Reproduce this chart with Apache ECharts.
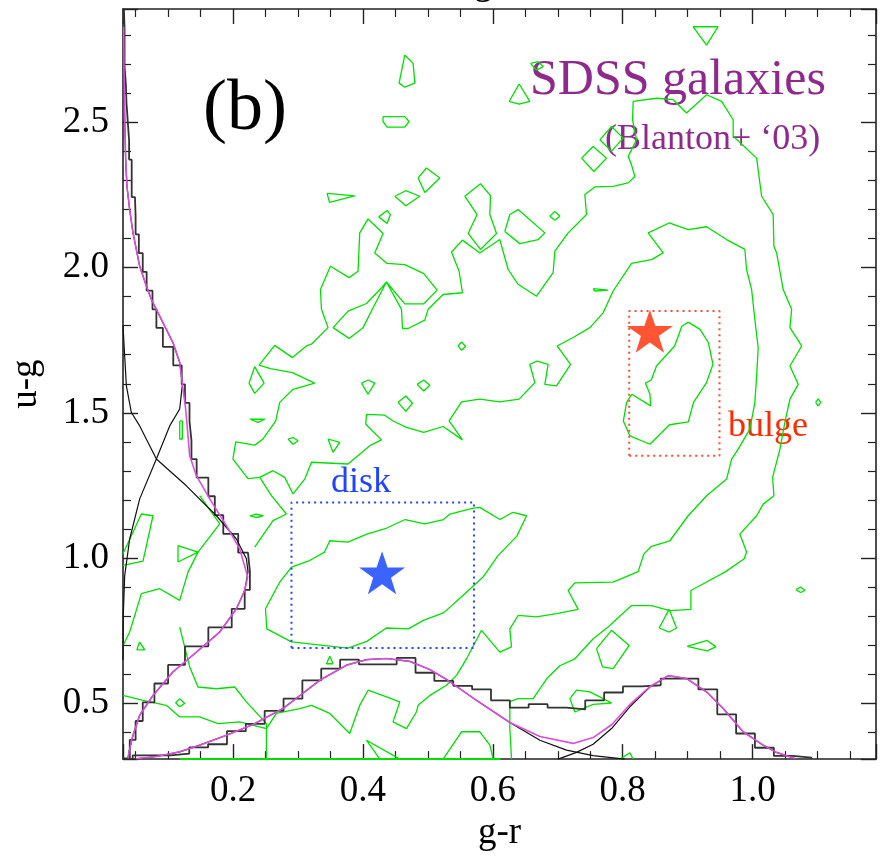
<!DOCTYPE html>
<html>
<head>
<meta charset="utf-8">
<script src="https://cdn.jsdelivr.net/npm/echarts@6/dist/echarts.min.js"></script>
<style>
html,body{margin:0;padding:0;background:#fff;}
#chart{width:884px;height:857px;}
</style>
</head>
<body>
<div id="chart"></div>
<script>
// Axis extents (g-r horizontally, u-g vertically)
const xRange = [0.0306, 1.19];
const yRange = [0.309, 2.889];

// g-r histogram: bin edges and bin heights (drawn in u-g units along the bottom)
const grEdges = [0.0455,0.0745,0.1036,0.1326,0.1616,0.1907,0.2197,0.2487,0.2778,0.3068,0.3358,0.3649,0.3939,0.4229,0.4520,0.4810,0.5100,0.5391,0.5681,0.5972,0.6262,0.6552,0.6843,0.7133,0.7423,0.7714,0.8004,0.8294,0.8585,0.8875,0.9165,0.9456,0.9746,1.0036,1.0327,1.0617,1.0907];
const grCounts = [0.322,0.322,0.328,0.349,0.360,0.405,0.430,0.475,0.517,0.580,0.620,0.651,0.635,0.635,0.657,0.606,0.578,0.561,0.549,0.511,0.486,0.498,0.486,0.480,0.511,0.538,0.559,0.563,0.586,0.586,0.549,0.463,0.397,0.348,0.320,0.314];

// u-g histogram: bin edges and bin heights (drawn in g-r units along the left side)
const ugEdges = [0.311,0.375,0.440,0.504,0.569,0.633,0.697,0.762,0.826,0.891,0.955,1.019,1.084,1.148,1.213,1.277,1.341,1.405,1.470,1.534,1.598,1.663,1.727,1.792,1.856,1.920,1.985,2.049,2.114,2.178,2.242,2.307,2.371,2.436,2.500,2.565,2.629,2.693,2.758,2.822,2.887];
const ugCounts = [0.041,0.050,0.061,0.079,0.100,0.126,0.162,0.198,0.218,0.226,0.223,0.208,0.185,0.172,0.162,0.144,0.136,0.133,0.133,0.126,0.121,0.108,0.092,0.082,0.076,0.067,0.061,0.055,0.050,0.049,0.044,0.044,0.040,0.038,0.036,0.035,0.033,0.033,0.033,0.032];

// Two-component fits to the g-r histogram
const grFitTotal = [[0.0501,0.310],[0.0820,0.318],[0.1179,0.334],[0.1487,0.357],[0.1898,0.391],[0.2308,0.428],[0.2770,0.483],[0.3335,0.580],[0.3747,0.632],[0.4055,0.651],[0.4363,0.655],[0.4722,0.645],[0.5030,0.617],[0.5307,0.580],[0.5749,0.511],[0.6262,0.435],[0.6725,0.387],[0.7237,0.363],[0.7545,0.383],[0.7833,0.428],[0.8126,0.500],[0.8419,0.558],[0.8700,0.596],[0.8984,0.586],[0.9292,0.540],[0.9547,0.483],[0.9855,0.403],[1.0163,0.357],[1.0370,0.332],[1.0652,0.311]];
const grFitBlue = [[0.0501,0.310],[0.0820,0.318],[0.1179,0.334],[0.1487,0.357],[0.1898,0.391],[0.2308,0.428],[0.2770,0.483],[0.3335,0.580],[0.3747,0.632],[0.4055,0.651],[0.4363,0.655],[0.4722,0.645],[0.5030,0.617],[0.5307,0.580],[0.5749,0.511],[0.6262,0.435],[0.6725,0.374],[0.7135,0.340],[0.7545,0.321],[0.8033,0.309]];
const grFitRed = [[0.7006,0.309],[0.7289,0.332],[0.7545,0.360],[0.7828,0.414],[0.8110,0.489],[0.8418,0.557],[0.8700,0.596],[0.8984,0.586],[0.9292,0.540],[0.9547,0.483],[0.9855,0.403],[1.0163,0.357],[1.0370,0.332],[1.0652,0.311]];

// Two-component fits to the u-g histogram ([g-r extent, u-g])
const ugFitTotal = [[0.0317,2.828],[0.0321,2.691],[0.0332,2.519],[0.0347,2.371],[0.0367,2.279],[0.0409,2.199],[0.0460,2.119],[0.0563,2.004],[0.0666,1.936],[0.0743,1.890],[0.0922,1.810],[0.1076,1.741],[0.1179,1.673],[0.1221,1.598],[0.1271,1.513],[0.1333,1.352],[0.1436,1.284],[0.1641,1.204],[0.1898,1.112],[0.2103,1.032],[0.2206,0.952],[0.2226,0.936],[0.2180,0.889],[0.2052,0.826],[0.1795,0.746],[0.1436,0.677],[0.1076,0.609],[0.0768,0.528],[0.0563,0.460],[0.0460,0.391],[0.0398,0.334],[0.0383,0.311]];
const ugFitBlue = [[0.0306,1.800],[0.0332,1.695],[0.0358,1.593],[0.0435,1.501],[0.0563,1.455],[0.0820,1.341],[0.1282,1.249],[0.1744,1.146],[0.2052,1.066],[0.2206,0.998],[0.2231,0.954],[0.2180,0.889],[0.2052,0.826],[0.1795,0.746],[0.1436,0.677],[0.1076,0.609],[0.0768,0.528],[0.0563,0.460],[0.0460,0.391],[0.0398,0.334],[0.0383,0.311]];
const ugFitRed = [[0.0317,2.828],[0.0321,2.691],[0.0332,2.519],[0.0347,2.371],[0.0367,2.279],[0.0409,2.199],[0.0460,2.119],[0.0563,2.004],[0.0666,1.936],[0.0743,1.890],[0.0922,1.810],[0.1076,1.741],[0.1179,1.673],[0.1221,1.598],[0.1179,1.513],[0.1025,1.455],[0.0820,1.341],[0.0563,1.204],[0.0409,1.066],[0.0332,0.940],[0.0310,0.800],[0.0306,0.650]];

// Density contours of the galaxy distribution
const contourOuter = [[0.2412,1.278],[0.2231,1.274],[0.1998,1.341],[0.2042,1.400],[0.2334,1.389],[0.2462,1.410],[0.2658,1.472],[0.2719,1.536],[0.2924,1.581],[0.3258,1.602],[0.2915,1.638],[0.2576,1.652],[0.2401,1.664],[0.2642,1.732],[0.2915,1.690],[0.3130,1.730],[0.3207,1.736],[0.3463,1.793],[0.3362,1.856],[0.3346,1.924],[0.3500,2.004],[0.3787,1.965],[0.3925,1.987],[0.3951,2.119],[0.4079,2.167],[0.4310,2.117],[0.4182,2.050],[0.4372,2.014],[0.4645,2.010],[0.4937,1.979],[0.5142,1.922],[0.4937,1.875],[0.4645,1.875],[0.4362,1.950],[0.4131,1.850],[0.4002,1.793],[0.3787,1.756],[0.3540,1.793],[0.3771,1.850],[0.4055,1.876],[0.4286,1.930],[0.4362,1.950],[0.4594,1.856],[0.4609,1.790],[0.4696,1.790],[0.4953,1.819],[0.5004,1.856],[0.5235,1.907],[0.5533,1.913],[0.5481,1.987],[0.5364,2.053],[0.5533,2.094],[0.5800,2.050],[0.6108,2.096],[0.6236,1.993],[0.6390,1.942],[0.6673,1.901],[0.6929,1.982],[0.6955,2.056],[0.7160,2.119],[0.7443,2.182],[0.7417,2.251],[0.7571,2.277],[0.7853,2.279],[0.8084,2.291],[0.8187,2.313],[0.8136,2.353],[0.8084,2.382],[0.8213,2.439],[0.8152,2.508],[0.8161,2.571],[0.8521,2.582],[0.8777,2.577],[0.8983,2.531],[0.9291,2.594],[0.9523,2.571],[0.9701,2.508],[0.9701,2.451],[1.0062,2.376],[1.0139,2.245],[1.0317,2.182],[1.0328,2.073],[1.0370,2.050],[1.0471,1.924],[1.0601,1.856],[1.0575,1.793],[1.0755,1.730],[1.0575,1.661],[1.0702,1.598],[1.0575,1.547],[1.0497,1.467],[1.0421,1.375],[1.0308,1.278],[1.0328,1.215],[1.0163,1.186],[1.0062,1.146],[0.9804,1.083],[0.9907,1.021],[0.9871,0.998],[0.9574,0.952],[0.9291,0.918],[0.9050,0.889],[0.9050,0.824],[0.8726,0.820],[0.8444,0.837],[0.8136,0.837],[0.7853,0.780],[0.7776,0.763],[0.7545,0.723],[0.7263,0.654],[0.7032,0.630],[0.6832,0.586],[0.6621,0.517],[0.6390,0.517],[0.6262,0.507],[0.6262,0.414],[0.6288,0.309]];
const contourMid = [[0.2412,1.278],[0.2616,1.301],[0.2796,1.278],[0.2924,1.221],[0.3104,1.272],[0.3208,1.330],[0.3771,1.324],[0.4106,1.387],[0.4286,1.407],[0.4044,1.461],[0.4055,1.495],[0.4337,1.492],[0.4464,1.472],[0.4671,1.450],[0.4937,1.433],[0.5235,1.453],[0.5533,1.407],[0.5327,1.472],[0.5518,1.538],[0.5800,1.547],[0.6108,1.538],[0.6405,1.547],[0.6647,1.604],[0.6570,1.667],[0.6682,1.678],[0.6852,1.667],[0.6801,1.598],[0.6981,1.593],[0.7197,1.667],[0.6990,1.730],[0.7237,1.759],[0.7494,1.793],[0.7699,1.844],[0.7853,1.919],[0.8136,2.014],[0.8444,2.027],[0.8623,2.050],[0.8392,2.119],[0.8715,2.153],[0.9008,2.130],[0.9291,2.140],[0.9600,2.096],[0.9881,2.062],[0.9907,1.993],[0.9985,1.924],[1.0035,1.821],[1.0086,1.724],[1.0062,1.627],[1.0035,1.536],[0.9958,1.444],[0.9778,1.375],[0.9677,1.341],[0.9600,1.272],[0.9292,1.215],[0.9008,1.146],[0.8726,1.060],[0.8444,1.041],[0.8326,1.015],[0.8238,0.954],[0.7853,0.918],[0.7263,0.915],[0.7160,0.889],[0.7314,0.824],[0.6981,0.809],[0.6673,0.798],[0.6390,0.803],[0.6262,0.757],[0.6288,0.695],[0.6108,0.677],[0.5826,0.752],[0.5595,0.654],[0.5441,0.597],[0.5287,0.563],[0.5031,0.528],[0.4850,0.494],[0.4825,0.472],[0.4671,0.414],[0.4464,0.437],[0.4568,0.506],[0.4363,0.523],[0.4079,0.546],[0.3951,0.494],[0.3797,0.397],[0.3490,0.466],[0.3208,0.494],[0.3028,0.483],[0.2668,0.466],[0.2514,0.414],[0.2103,0.437],[0.1769,0.431],[0.1487,0.454],[0.1179,0.454],[0.0974,0.494],[0.0614,0.511],[0.0306,0.528]];
const contourDiskCore = [[0.250,0.826],[0.252,0.757],[0.290,0.712],[0.377,0.691],[0.406,0.714],[0.436,0.760],[0.470,0.757],[0.493,0.786],[0.524,0.812],[0.554,0.872],[0.585,0.935],[0.608,1.009],[0.637,1.076],[0.652,1.146],[0.631,1.158],[0.611,1.133],[0.580,1.175],[0.570,1.172],[0.534,1.152],[0.524,1.133],[0.495,1.118],[0.465,1.133],[0.436,1.103],[0.406,1.083],[0.377,1.055],[0.349,1.060],[0.341,1.021],[0.318,0.992],[0.290,0.969],[0.272,0.918],[0.250,0.826]];
const contourBulgeCore = [[0.901,1.812],[0.919,1.787],[0.932,1.741],[0.939,1.667],[0.929,1.604],[0.909,1.536],[0.901,1.469],[0.872,1.459],[0.842,1.392],[0.811,1.421],[0.801,1.472],[0.806,1.536],[0.814,1.564],[0.843,1.524],[0.842,1.564],[0.835,1.602],[0.844,1.613],[0.852,1.661],[0.880,1.730],[0.891,1.798],[0.901,1.812]];
const contourLeftA = [[0.2412,1.278],[0.2591,1.215],[0.2822,1.152],[0.2616,1.129],[0.2334,1.038]];
const contourLeftB = [[0.0306,0.700],[0.0409,0.746],[0.0589,0.878],[0.0871,0.895],[0.1179,0.855],[0.1307,0.952],[0.1461,1.021],[0.1795,1.118],[0.1487,1.215]];
const contourLeftC = [[0.1179,0.763],[0.1333,0.626],[0.1461,0.557],[0.1744,0.551],[0.2026,0.557],[0.2206,0.506],[0.2514,0.431],[0.2514,0.309]];
const contourLeftD = [[0.0306,1.015],[0.0589,1.152],[0.0768,1.146],[0.0614,0.990],[0.0306,0.975]];
const contourBase = [[0.118,0.309],[0.612,0.309]];
const contourIslands = [
  [[0.4645,2.731],[0.4773,2.702],[0.4799,2.634],[0.4645,2.620],[0.4557,2.634],[0.4645,2.731]],
  [[0.4310,2.519],[0.4645,2.519],[0.4711,2.502],[0.4645,2.483],[0.4372,2.483],[0.4310,2.502],[0.4310,2.519]],
  [[0.4850,2.308],[0.4979,2.342],[0.5184,2.308],[0.4953,2.258],[0.4850,2.308]],
  [[0.6251,2.571],[0.6405,2.631],[0.6570,2.571],[0.6405,2.562],[0.6251,2.571]],
  [[0.9082,2.828],[0.9467,2.828],[0.9291,2.765],[0.9082,2.828]],
  [[0.6581,2.702],[0.6698,2.708],[0.6775,2.691],[0.6673,2.679],[0.6581,2.702]],
  [[0.4491,2.245],[0.4660,2.264],[0.4876,2.245],[0.4660,2.212],[0.4491,2.245]],
  [[0.3448,2.255],[0.3874,2.246],[0.3486,2.224],[0.3448,2.255]],
  [[0.4244,2.174],[0.4372,2.196],[0.4424,2.182],[0.4372,2.151],[0.4244,2.174]],
  [[0.5466,1.730],[0.5518,1.744],[0.5580,1.728],[0.5518,1.715],[0.5466,1.730]],
  [[0.2246,1.602],[0.2334,1.659],[0.2478,1.602],[0.2334,1.567],[0.2246,1.602]],
  [[0.3978,1.602],[0.4079,1.613],[0.4182,1.602],[0.4079,1.564],[0.3978,1.602]],
  [[0.4834,1.598],[0.4937,1.613],[0.5030,1.595],[0.4937,1.575],[0.4834,1.598]],
  [[0.4541,1.536],[0.4660,1.558],[0.4763,1.533],[0.4660,1.505],[0.4541,1.536]],
  [[0.5568,2.245],[0.5810,2.288],[0.5964,2.247],[0.5954,2.182],[0.6057,2.117],[0.5810,2.062],[0.5620,2.117],[0.5758,2.182],[0.5568,2.245]],
  [[0.6185,2.124],[0.6262,2.182],[0.6390,2.199],[0.6801,2.119],[0.6698,2.096],[0.6416,2.082],[0.6185,2.124]],
  [[0.6878,2.176],[0.6955,2.193],[0.7032,2.176],[0.6955,2.162],[0.6878,2.176]],
  [[0.7366,2.376],[0.7545,2.416],[0.7751,2.376],[0.7556,2.330],[0.7366,2.376]],
  [[0.7648,2.439],[0.7828,2.485],[0.8007,2.445],[0.7828,2.400],[0.7648,2.439]],
  [[0.8561,0.760],[0.8715,0.824],[0.8829,0.760],[0.8715,0.746],[0.8561,0.760]],
  [[0.8993,0.697],[0.9301,0.717],[0.9435,0.695],[0.9301,0.681],[0.8993,0.697]],
  [[1.0667,0.892],[1.0739,0.901],[1.0806,0.889],[1.0739,0.882],[1.0667,0.892]],
  [[0.7597,0.689],[0.7828,0.752],[0.8100,0.700],[0.7853,0.620],[0.7690,0.626],[0.7597,0.689]],
  [[0.7186,0.517],[0.7289,0.546],[0.7494,0.540],[0.7699,0.517],[0.7828,0.502],[0.7545,0.497],[0.7263,0.471],[0.7186,0.517]],
  [[0.5235,0.309],[0.5518,0.403],[0.5800,0.403],[0.5954,0.357],[0.6005,0.309]],
  [[0.4260,0.309],[0.4055,0.374],[0.4568,0.309]],
  [[0.7957,0.309],[0.8110,0.331],[0.8161,0.309]],
  [[1.097,1.536],[1.101,1.548],[1.105,1.536],[1.101,1.524],[1.097,1.536]],
  [[0.7545,1.927],[0.7776,1.922],[0.7571,1.919],[0.7545,1.927]],
  [[0.118,1.472],[0.122,1.472],[0.122,1.410],[0.118,1.410],[0.118,1.472]],
  [[0.1153,1.043],[0.1461,1.021],[0.1153,0.987],[0.1153,1.043]],
  [[0.3490,0.663],[0.3540,0.637],[0.3439,0.637],[0.3490,0.663]],
  [[0.1179,0.517],[0.1256,0.500],[0.1179,0.489],[0.1117,0.503],[0.1179,0.517]],
  [[0.2263,1.478],[0.2489,1.478],[0.2386,1.467],[0.2263,1.478]],
  [[0.2847,1.410],[0.2924,1.415],[0.3002,1.404],[0.2924,1.392],[0.2847,1.410]],
  [[0.3463,1.410],[0.3540,1.364],[0.3643,1.398],[0.3463,1.410]],
  [[0.2263,1.146],[0.2355,1.152],[0.2463,1.146],[0.2355,1.140],[0.2263,1.146]],
  [[0.0560,0.712],[0.0640,0.685],[0.0520,0.685],[0.0560,0.712]]
];

// Selection boxes [gr min, gr max, ug min, ug max] and their centres
const diskBox = [0.290, 0.571, 0.691, 1.192];
const bulgeBox = [0.810, 0.949, 1.352, 1.850];
const diskStar = [[0.4295, 0.950]];
const bulgeStar = [[0.8418, 1.781]];

// Build step outlines from the histogram arrays
function stepBottom(edges, counts, base) {
  const pts = [[edges[0], base]];
  for (let i = 0; i < counts.length; i++) {
    pts.push([edges[i], counts[i]]);
    pts.push([edges[i + 1], counts[i]]);
  }
  pts.push([edges[edges.length - 1], base]);
  return pts;
}
function stepLeft(edges, counts, base) {
  const pts = [[base, edges[0]]];
  for (let i = 0; i < counts.length; i++) {
    pts.push([counts[i], edges[i]]);
    pts.push([counts[i], edges[i + 1]]);
  }
  return pts;
}
function boxOutline(b) {
  return [[b[0], b[2]], [b[1], b[2]], [b[1], b[3]], [b[0], b[3]], [b[0], b[2]]];
}
function line(data, color, width, type, z) {
  return {
    type: 'line', data: data, showSymbol: false, symbol: 'none', smooth: false,
    animation: false, silent: true, z: z || 2,
    lineStyle: { color: color, width: width, type: type || 'solid' }
  };
}

const GREEN = '#00E000';
const series = [];
[contourOuter, contourMid, contourDiskCore, contourBulgeCore,
 contourLeftA, contourLeftB, contourLeftC, contourLeftD].forEach(c => series.push(line(c, GREEN, 1.3)));
series.push(line(contourBase, GREEN, 2));
contourIslands.forEach(c => series.push(line(c, GREEN, 1.3)));

series.push(line(stepBottom(grEdges, grCounts, yRange[0]), '#333333', 1.8, 'solid', 3));
series.push(line(stepLeft(ugEdges, ugCounts, xRange[0]), '#333333', 1.8, 'solid', 3));
series.push(line(grFitBlue, '#111111', 1.2, 'solid', 4));
series.push(line(grFitRed, '#111111', 1.2, 'solid', 4));
series.push(line(ugFitBlue, '#111111', 1.2, 'solid', 4));
series.push(line(ugFitRed, '#111111', 1.2, 'solid', 4));
series.push(line(grFitTotal, '#DA4FDA', 1.6, 'solid', 5));
series.push(line(ugFitTotal, '#DA4FDA', 1.6, 'solid', 5));

series.push(line(boxOutline(diskBox), '#2244FF', 2, [2, 4], 6));
series.push(line(boxOutline(bulgeBox), '#FF4A33', 2, [2, 4], 6));

const STAR = 'path://M50,0 L61.8,35.3 L98.9,35.3 L68.9,57.1 L80.2,92.7 L50,70.9 L19.8,92.7 L31.1,57.1 L1.1,35.3 L38.2,35.3 Z';
series.push({ type: 'scatter', data: diskStar, symbol: STAR, symbolSize: [46, 43], itemStyle: { color: '#0A3CFF' }, z: 7, animation: false, silent: true });
series.push({ type: 'scatter', data: bulgeStar, symbol: STAR, symbolSize: [46, 43], itemStyle: { color: '#FF2A00' }, z: 7, animation: false, silent: true });

const SERIF = '"Liberation Serif", "DejaVu Serif", serif';
const AXIS_COLOR = '#222222';
function axisCommon(pos, showLabels) {
  return {
    type: 'value', position: pos, scale: true,
    axisLine: { show: true, onZero: false, lineStyle: { color: AXIS_COLOR, width: 1.6 } },
    axisTick: { show: true, inside: true, length: 15, lineStyle: { color: AXIS_COLOR, width: 1.4 } },
    minorTick: { show: true, length: 8, lineStyle: { color: AXIS_COLOR, width: 1.2 } },
    splitLine: { show: false },
    minorSplitLine: { show: false },
    axisLabel: {
      show: showLabels, color: '#000', fontFamily: SERIF, fontSize: 37, margin: 14,
      showMinLabel: false, showMaxLabel: false,
      formatter: v => v.toFixed(1)
    }
  };
}
const xBottom = Object.assign(axisCommon('bottom', true), {
  min: xRange[0], max: xRange[1], splitNumber: 6,
  name: 'g-r', nameLocation: 'middle', nameGap: 52,
  nameTextStyle: { color: '#000', fontFamily: SERIF, fontSize: 37 }
});
xBottom.minorTick.splitNumber = 4;
const xTop = Object.assign(axisCommon('top', false), { min: xRange[0], max: xRange[1], splitNumber: 6 });
xTop.minorTick.splitNumber = 4;
const yLeft = Object.assign(axisCommon('left', true), {
  min: yRange[0], max: yRange[1], splitNumber: 5,
  name: 'u-g', nameLocation: 'middle', nameGap: 78, nameRotate: 90,
  nameTextStyle: { color: '#000', fontFamily: SERIF, fontSize: 37 }
});
yLeft.minorTick.splitNumber = 5;
const yRight = Object.assign(axisCommon('right', false), { min: yRange[0], max: yRange[1], splitNumber: 5 });
yRight.minorTick.splitNumber = 5;

const chart = echarts.init(document.getElementById('chart'), null, { renderer: 'canvas' });
chart.setOption({
  animation: false,
  backgroundColor: '#ffffff',
  grid: { left: 123, top: 9, right: 8, bottom: 96, containLabel: false },
  xAxis: [xBottom, xTop],
  yAxis: [yLeft, yRight],
  series: series,
  graphic: [
    { type: 'text', left: 203, top: 74, style: { text: '(b)', font: '72px ' + SERIF, fill: '#000' } },
    { type: 'text', left: 530, top: 56, style: { text: 'SDSS galaxies', font: '50px ' + SERIF, fill: '#8E2A8C' } },
    { type: 'text', left: 605, top: 122, style: { text: '(Blanton+ \u201803)', font: '36px ' + SERIF, fill: '#8E2A8C' } },
    { type: 'text', left: 331, top: 465, style: { text: 'disk', font: '36px ' + SERIF, fill: '#1F44FF' } },
    { type: 'text', left: 728, top: 409, style: { text: 'bulge', font: '36px ' + SERIF, fill: '#FF2A00' } },
    { type: 'text', left: 474, top: -34, style: { text: 'g-r', font: '37px ' + SERIF, fill: '#000' } }
  ]
});
</script>
</body>
</html>
